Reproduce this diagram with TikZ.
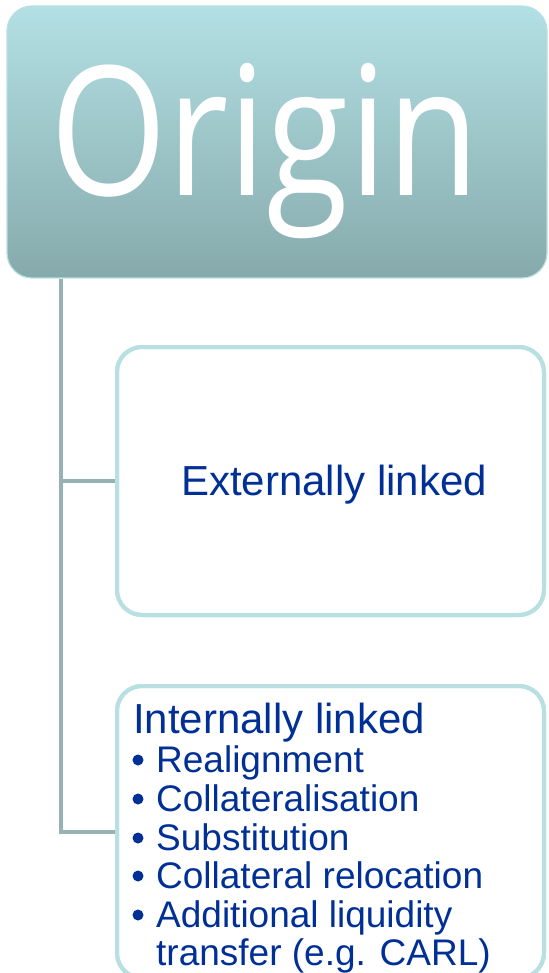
\documentclass[tikz,border=0pt]{standalone}
\usepackage{fontspec}
\setmainfont{Liberation Sans}
\newfontfamily\originfont{Open Sans}
\definecolor{txtblue}{RGB}{0,48,150}
\definecolor{gradtop}{RGB}{179,224,228}
\definecolor{gradbot}{RGB}{134,170,172}
\definecolor{boxline}{RGB}{184,223,226}
\definecolor{conn}{RGB}{150,178,180}
\begin{document}
\begin{tikzpicture}[x=1pt,y=-1pt,
  headbox/.style={rounded corners=25pt, top color=gradtop, bottom color=gradbot,
    draw=boxline, line width=1.2pt, minimum width=540pt, minimum height=272pt, inner sep=0pt},
  childbox/.style={rounded corners=25pt, fill=white, draw=boxline, line width=4pt, inner sep=0pt},
  conline/.style={draw=conn, line width=4pt},
  bigtxt/.style={font=\fontsize{42}{42}\selectfont, text=txtblue, inner sep=0pt},
  itemtxt/.style={font=\fontsize{37}{37}\selectfont, text=txtblue, inner sep=0pt, anchor=base west},
  bul/.style={fill=txtblue}]
\useasboundingbox (0,0) rectangle (548,973);
\node[headbox] (origin) at (277,142) {};
\node[childbox, minimum width=427pt, minimum height=268pt] (ext) at (330.5,481) {};
\node[childbox, minimum width=427pt, minimum height=292pt] (int) at (330.5,832) {};
\coordinate (trunk) at (61,279);
\draw[conline] (trunk) |- (int.west);
\draw[conline] (trunk |- ext.west) -- (ext.west);
% redraw box borders over connector ends
\draw[boxline, line width=4pt, rounded corners=25pt] (117,347) rectangle (544,615);
\draw[boxline, line width=4pt, rounded corners=25pt] (117,686) rectangle (544,978);
% texts
\node[anchor=base, inner sep=0pt, text=white] (origintxt) at (265,196)
  {\resizebox{428pt}{132pt}{\originfont Origin}};
\node[bigtxt, anchor=base] (exttxt) at (334,495) {Externally linked};
\node[bigtxt, anchor=base west] (inthead) at (133,733) {Internally linked};
\node[itemtxt] (i1) at (156,772) {Realignment};
\node[itemtxt] (i2) at (156,811) {Collateralisation};
\node[itemtxt] (i3) at (156,850) {Substitution};
\node[itemtxt] (i4) at (156,888) {Collateral relocation};
\node[itemtxt] (i5) at (156,927) {Additional liquidity};
\node[itemtxt] (i6) at (156,965) {transfer (e.g. CARL)};
\foreach \y in {772,811,850,888,927}
  \fill[bul] (138,\y-12) circle (5.5pt);
\end{tikzpicture}
\end{document}
